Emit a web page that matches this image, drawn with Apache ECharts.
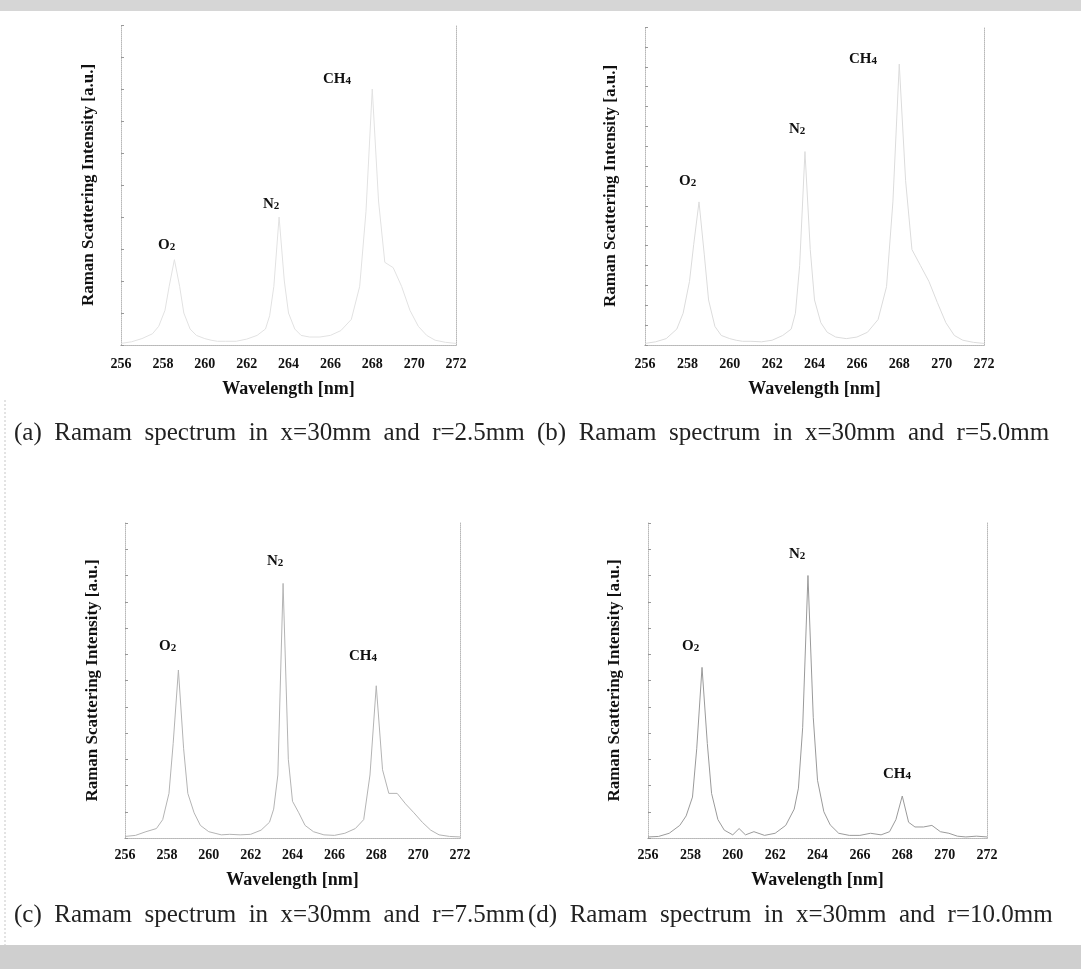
<!DOCTYPE html>
<html>
<head>
<meta charset="utf-8">
<script src="https://cdn.jsdelivr.net/npm/echarts@6/dist/echarts.min.js"></script>
<style>
html,body{margin:0;padding:0;background:#fff;}
#chart{width:1081px;height:969px;}
</style>
</head>
<body>
<div id="chart"></div>
<script>
// Wavelength sampling [nm]
const wavelength = [256.0, 256.5, 257.0, 257.5, 257.8, 258.1, 258.3, 258.55, 258.8, 259.0, 259.3, 259.6, 260.0, 260.3, 260.6, 261.0, 261.5, 262.0, 262.5, 262.9, 263.1, 263.3, 263.55, 263.8, 264.0, 264.3, 264.6, 265.0, 265.5, 266.0, 266.5, 267.0, 267.4, 267.7, 268.0, 268.3, 268.6, 269.0, 269.4, 269.8, 270.2, 270.6, 271.0, 271.5, 272.0];

// Raman scattering intensity [a.u.]
const intensityA = [0.6, 1.2, 2.4, 4.2, 7, 13, 22, 32, 22, 12, 6, 3.6, 2.4, 1.8, 1.4, 1.4, 1.4, 2.2, 3.6, 6, 11, 22, 48, 24, 12, 6, 3.6, 3, 3, 3.6, 5.4, 9.6, 22, 50, 96, 54, 31, 29, 22, 13, 7, 3.6, 1.8, 1, 0.6];
const intensityB = [0.6, 1.2, 2.4, 6, 12, 24, 38, 54, 34, 17, 7, 3.6, 2.4, 1.8, 1.4, 1.4, 1.2, 1.8, 3.6, 6, 12, 30, 73, 36, 17, 8.4, 4.8, 3, 2.4, 3, 4.8, 9.6, 22, 54, 106, 62, 36, 30, 24, 16, 8.4, 3.6, 1.8, 1, 0.6];
const intensityC = [0.6, 1, 2.4, 3.6, 7, 17, 36, 64, 34, 17, 9.6, 4.8, 2.4, 1.8, 1.2, 1.4, 1.2, 1.4, 3, 6, 11, 24, 97, 30, 14, 9.6, 4.8, 2.4, 1.2, 1, 1.8, 3.6, 7, 24, 58, 26, 17, 17, 13, 9.6, 6, 3, 1.2, 0.6, 0.4];
const intensityD = [0.4, 0.6, 1.8, 4.8, 8.4, 15.6, 34, 65, 36, 17, 7, 3, 1.2, 3.6, 1.2, 2.4, 1, 1.8, 4.8, 11, 19, 42, 100, 46, 22, 10, 5, 1.8, 1, 1, 1.8, 1.2, 2.4, 7, 16, 6, 4.2, 4.2, 4.8, 2.4, 1.8, 0.7, 0.4, 0.7, 0.4];

const xTickLabels = ['256', '258', '260', '262', '264', '266', '268', '270', '272'];
const captions = [
  '(a)  Ramam  spectrum  in  x=30mm  and  r=2.5mm',
  '(b)  Ramam  spectrum  in  x=30mm  and  r=5.0mm',
  '(c)  Ramam  spectrum  in  x=30mm  and  r=7.5mm',
  '(d)  Ramam  spectrum  in  x=30mm  and  r=10.0mm'
];
const xTitle = 'Wavelength [nm]';
const yTitle = 'Raman Scattering Intensity [a.u.]';
const species = [['O', '2'], ['N', '2'], ['CH', '4']];

// ---- layout ----
const panels = [
  {grid: {left: 121, top: 25, width: 335, height: 320}, data: intensityA, color: '#e2e2e2', yGap: 24, lm: 12, ng: 35, yInt: 12,
   labels: [[158, 247], [263, 206], [323, 81]]},
  {grid: {left: 645, top: 27, width: 339, height: 318}, data: intensityB, color: '#dcdcdc', yGap: 26, lm: 12, ng: 35, yInt: 7.5,
   labels: [[679, 183], [789, 131], [849, 61]]},
  {grid: {left: 125, top: 523, width: 335, height: 315}, data: intensityC, color: '#b4b4b4', yGap: 24, lm: 10, ng: 33, yInt: 10,
   labels: [[159, 648], [267, 563], [349, 658]]},
  {grid: {left: 648, top: 523, width: 339, height: 315}, data: intensityD, color: '#9a9a9a', yGap: 25, lm: 10, ng: 33, yInt: 10,
   labels: [[682, 648], [789, 556], [883, 776]]}
];

const serif = '"Liberation Serif", "Times New Roman", serif';
const frameLine = {show: true, lineStyle: {color: '#b8b8b8', type: 'dotted', width: 1}};

const grids = [], xAxes = [], yAxes = [], series = [], graphics = [];
panels.forEach((p, i) => {
  grids.push(p.grid);
  xAxes.push({
    type: 'value', gridIndex: i, min: 256, max: 272, interval: 2, position: 'bottom',
    axisLine: frameLine, axisTick: {show: false}, splitLine: {show: false},
    axisLabel: {margin: p.lm, fontFamily: serif, fontWeight: 'bold', fontSize: 14, color: '#111',
      formatter: v => xTickLabels[Math.round((v - 256) / 2)]},
    name: xTitle, nameLocation: 'middle', nameGap: p.ng,
    nameTextStyle: {fontFamily: serif, fontWeight: 'bold', fontSize: 18, color: '#111'}
  });
  xAxes.push({
    type: 'value', gridIndex: i, min: 256, max: 272, position: 'top',
    axisLine: frameLine, axisTick: {show: false}, axisLabel: {show: false}, splitLine: {show: false}
  });
  yAxes.push({
    type: 'value', gridIndex: i, min: 0, max: 120, interval: p.yInt, position: 'left',
    axisLine: frameLine,
    axisTick: {show: true, inside: true, length: 3, lineStyle: {color: '#999'}},
    axisLabel: {show: false}, splitLine: {show: false},
    name: yTitle, nameLocation: 'middle', nameGap: p.yGap, nameRotate: 90,
    nameTextStyle: {fontFamily: serif, fontWeight: 'bold', fontSize: 17, color: '#111'}
  });
  yAxes.push({
    type: 'value', gridIndex: i, min: 0, max: 120, position: 'right',
    axisLine: frameLine, axisTick: {show: false}, axisLabel: {show: false}, splitLine: {show: false}
  });
  series.push({
    type: 'line', xAxisIndex: i * 2, yAxisIndex: i * 2, showSymbol: false, silent: true,
    lineStyle: {color: p.color, width: 1},
    data: wavelength.map((w, k) => [w, p.data[k]])
  });
  p.labels.forEach((pos, k) => {
    graphics.push({
      type: 'text', left: pos[0], top: pos[1] - 9,
      style: {
        text: '{b|' + species[k][0] + '}{s|' + species[k][1] + '}',
        rich: {
          b: {fontFamily: serif, fontWeight: 'bold', fontSize: 15, fill: '#111', verticalAlign: 'bottom', lineHeight: 18},
          s: {fontFamily: serif, fontWeight: 'bold', fontSize: 11, fill: '#111', verticalAlign: 'bottom', lineHeight: 14}
        }
      }
    });
  });
});

// captions
const capPos = [[14, 435], [537, 435], [14, 917], [528, 917]];
captions.forEach((c, i) => {
  graphics.push({
    type: 'text', left: capPos[i][0], top: capPos[i][1] - 14,
    style: {text: c, font: '25px ' + serif, fill: '#222'}
  });
});
// scan border strips
graphics.push({type: 'rect', left: 0, top: 0, shape: {width: 1081, height: 11}, style: {fill: '#d6d6d6'}, z: -1});
graphics.push({type: 'rect', left: 0, top: 945, shape: {width: 1081, height: 24}, style: {fill: '#cfcfcf'}, z: -1});
graphics.push({type: 'line', shape: {x1: 5, y1: 400, x2: 5, y2: 945}, style: {stroke: '#c8c8c8', lineDash: [2, 2]}, z: -1});

const chart = echarts.init(document.getElementById('chart'), null, {renderer: 'canvas'});
chart.setOption({
  backgroundColor: '#ffffff',
  animation: false,
  grid: grids, xAxis: xAxes, yAxis: yAxes, series: series, graphic: graphics
});
</script>
</body>
</html>
